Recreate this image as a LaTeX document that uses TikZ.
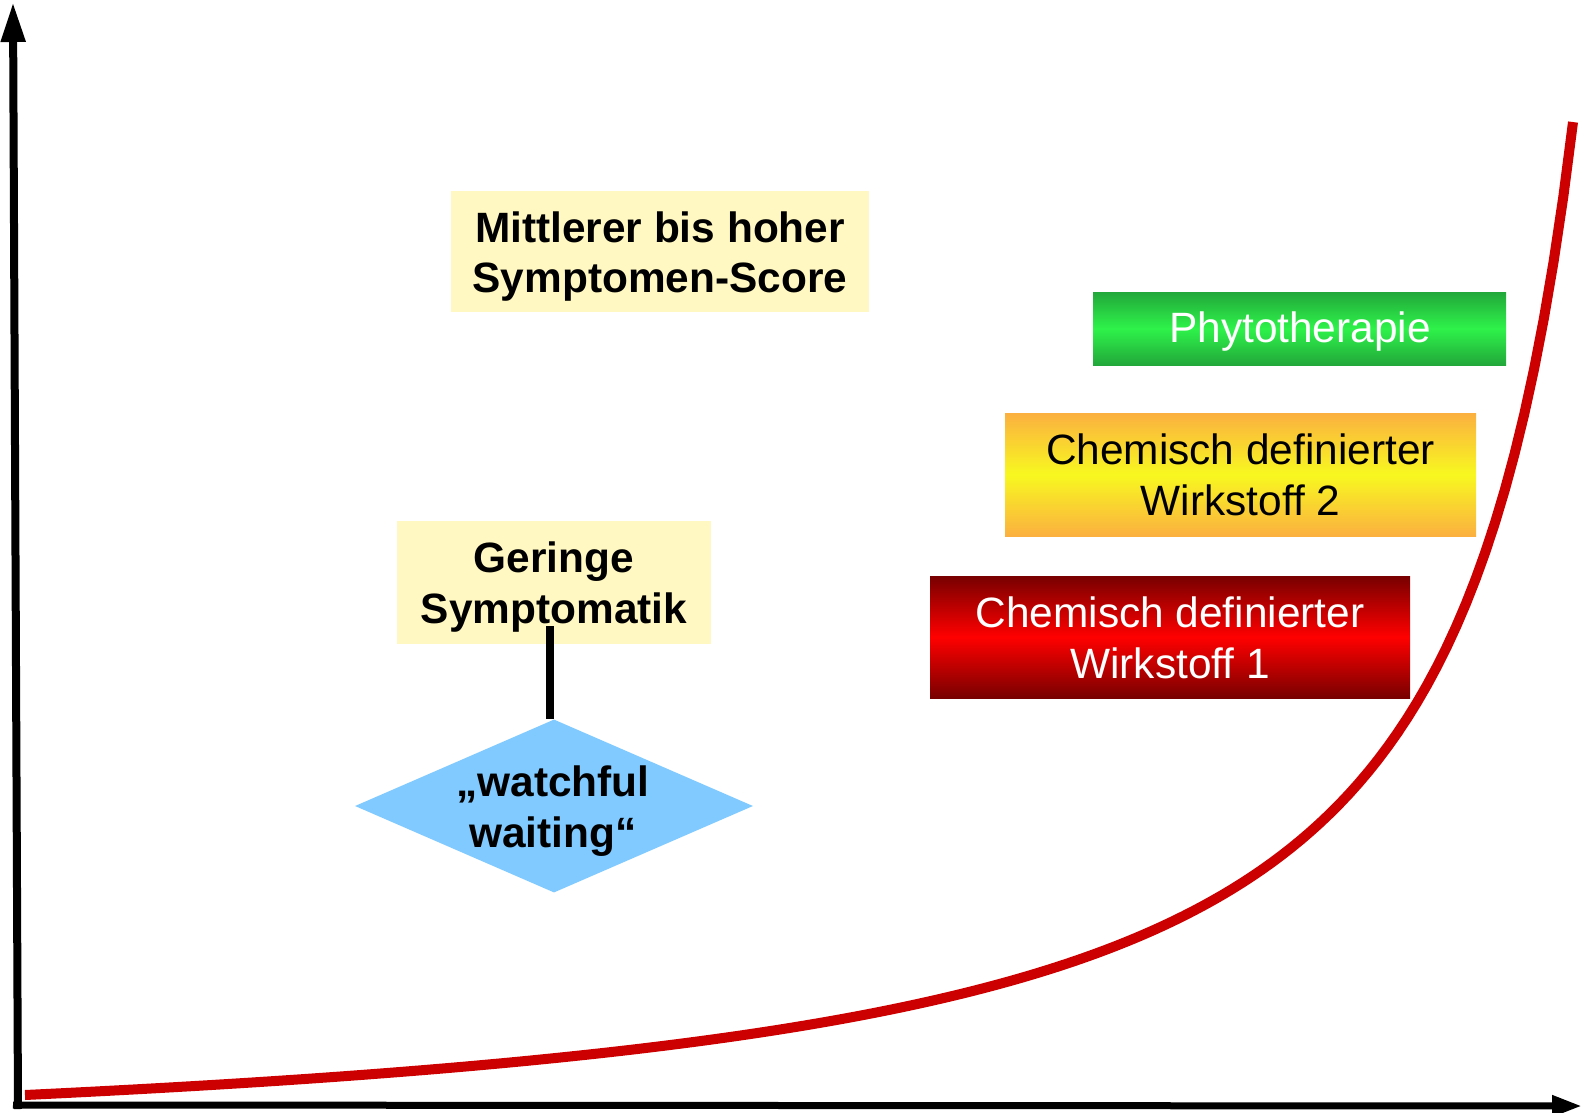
\documentclass[tikz,border=0pt]{standalone}
\usepackage{fontspec}
\setmainfont{Liberation Sans}
\usetikzlibrary{arrows.meta,shapes.geometric}
\definecolor{lightyel}{HTML}{FFF8C2}
\definecolor{greenedge}{HTML}{22A83A}
\definecolor{greenmid}{HTML}{2EF24A}
\definecolor{orangeedge}{HTML}{FBB040}
\definecolor{yellowmid}{HTML}{F8F820}
\definecolor{rededge}{HTML}{780000}
\definecolor{redmid}{HTML}{FF0000}
\definecolor{diablue}{HTML}{80CAFF}
\definecolor{curvered}{HTML}{CC0000}
\begin{document}
\begin{tikzpicture}[x=1pt,y=-1pt,
  lbl/.style={font=\fontsize{42.4}{50.5}\selectfont, align=center, inner sep=0pt},
  boldlbl/.style={font=\fontsize{42.4}{50.5}\selectfont\bfseries, align=center, inner sep=0pt},
  notebox/.style={fill=lightyel, inner sep=0pt},
  greenbox/.style={inner sep=0pt, top color=greenedge, bottom color=greenedge, middle color=greenmid},
  orangebox/.style={inner sep=0pt, top color=orangeedge, bottom color=orangeedge, middle color=yellowmid},
  redbox/.style={inner sep=0pt, top color=rededge, bottom color=rededge, middle color=redmid},
  axisline/.style={line width=8pt, black},
  curveline/.style={line width=10pt, curvered}
]
\useasboundingbox (0,0) rectangle (1582,1113);

% axes
\coordinate (ybot) at (18,1109);
\coordinate (ytop) at (13,2);
\coordinate (xleft) at (13,1105);
\coordinate (xright) at (1582,1106);
\draw[axisline, -{Triangle[length=40pt 0 0, width=23pt 0 0]}] (ybot) -- (ytop);
\draw[line width=7pt, black, -{Triangle[length=30pt 0 0, width=20pt 0 0]}] (xleft) -- (xright);

% boxes
\node[notebox, minimum width=418pt, minimum height=121pt] (mittel) at (660,251.5) {};
\node[boldlbl] (mitteltext) at (660,256.5) {Mittlerer bis hoher\\Symptomen-Score};
\node[notebox, minimum width=314pt, minimum height=123pt] (gering) at (554,582.5) {};
\node[boldlbl] (geringtext) at (554,587) {Geringe\\Symptomatik};
\node[greenbox, minimum width=413pt, minimum height=73pt] (phyto) at (1299.5,328.5) {};
\node[lbl, text=white] (phytotext) at (1300,332) {Phytotherapie};
\node[orangebox, minimum width=471pt, minimum height=123pt] (wirk2) at (1240.5,474.5) {};
\node[lbl, text=black] (wirk2text) at (1240.5,475) {Chemisch definierter\\Wirkstoff 2};
\node[redbox, minimum width=480pt, minimum height=122pt] (wirk1) at (1170,637) {};
\node[lbl, text=white] (wirk1text) at (1170,638) {Chemisch definierter\\Wirkstoff 1};

% diamond
\node[diamond, fill=diablue, inner sep=0pt, minimum width=398pt, minimum height=173pt] (wait) at (554,806) {};
\node[boldlbl] (waittext) at (553,811) {„watchful\\waiting“};

% connector
\coordinate (gtail) at (550,626);
\draw[axisline] (gtail) -- (gtail |- wait.north);

% curve
\draw[curveline] plot[domain=25:1573, samples=160] (\x, {1174.82 - 1337/((1700-\x)/100)});
\end{tikzpicture}
\end{document}
